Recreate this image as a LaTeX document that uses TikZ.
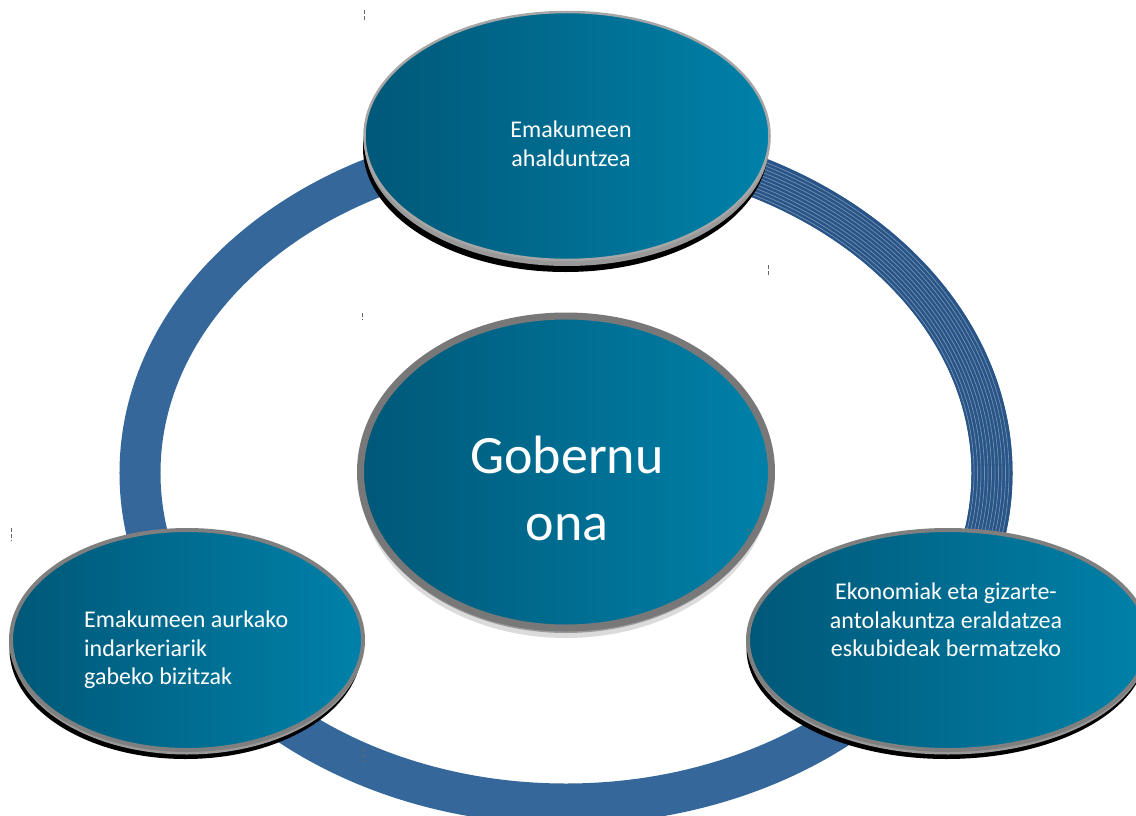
\documentclass[tikz,border=0pt]{standalone}
\usepackage{fontspec}
\setmainfont{Carlito}
\usetikzlibrary{shapes.geometric,shadows}
\definecolor{ringblue}{RGB}{53,103,154}
\definecolor{ringdark}{RGB}{40,84,136}
\definecolor{facedark}{RGB}{0,88,120}
\definecolor{facelight}{RGB}{0,129,169}
\definecolor{rimgray}{RGB}{127,127,127}

\begin{document}
\begin{tikzpicture}[x=1bp,y=-1bp,
  disc/.style={ellipse,draw=rimgray,line width=4bp,left color=facedark,right color=facelight,inner sep=0pt},
  darkrim/.style={general shadow={fill=black,shadow xshift=-1.5bp,shadow yshift=-#1},
    general shadow={fill=black!40,shadow yshift=-#1/2}},
  softrim/.style={general shadow={fill=black!14,shadow yshift=-10bp},
    general shadow={fill=black!40,shadow yshift=-5bp}},
  label/.style={text=white,inner sep=0pt,font=\fontsize{24bp}{28.5bp}\selectfont},
  cursor/.style={black!60,line width=1bp,dash pattern=on 4bp off 2bp}]
\useasboundingbox (0,0) rectangle (1136,816);
\coordinate (ring) at (566,473);
\draw[ringblue,line width=41bp] (ring) ellipse [x radius=426bp,y radius=331bp];
\draw[ringdark,line width=41bp] (ring) ++(-20:426bp and 331bp)
  arc[start angle=-20,end angle=75,x radius=426bp,y radius=331bp];
\foreach \d [evaluate=\d as \rx using 426+\d, evaluate=\d as \ry using 331+\d] in {-18,-14.5,...,18}
  \draw[white,opacity=.35,line width=.7bp] (ring) ++(-20:\rx bp and \ry bp)
    arc[start angle=-20,end angle=75,x radius=\rx bp,y radius=\ry bp];

\node[disc,darkrim=12bp,draw=black!35,line width=2.5bp,minimum width=405bp,minimum height=248bp] (ahal) at (567,136) {};
\node[disc,softrim,draw=black!53,line width=7bp,minimum width=411bp,minimum height=312bp] (gob) at (566,472) {};
\node[disc,darkrim=9bp,minimum width=352bp,minimum height=220bp] (indar) at (187,640) {};
\node[disc,darkrim=9bp,minimum width=400bp,minimum height=220bp] (ekon) at (948,640) {};

\node[label,align=center] (ahaltxt) at (571,144) {Emakumeen\\ahalduntzea};
\node[label,align=center,font=\fontsize{54bp}{67bp}\selectfont] (gobtxt) at (567,488) {Gobernu\\ona};
\node[label,align=left,anchor=west] (indartxt) at (84,650) {Emakumeen aurkako\\indarkeriarik\\gabeko bizitzak};
\node[label,align=center] (ekontxt) at (946,620) {Ekonomiak eta gizarte-\\antolakuntza eraldatzea\\eskubideak bermatzeko};

\draw[cursor] (364,10) -- (364,22);
\draw[cursor] (362,313) -- (362,320);
\draw[cursor] (768,265) -- (768,277);
\draw[cursor] (11,528) -- (11,541);
\draw[cursor] (363,748) -- (363,762);
\draw[cursor] (748,528) -- (748,540);
\end{tikzpicture}
\end{document}
